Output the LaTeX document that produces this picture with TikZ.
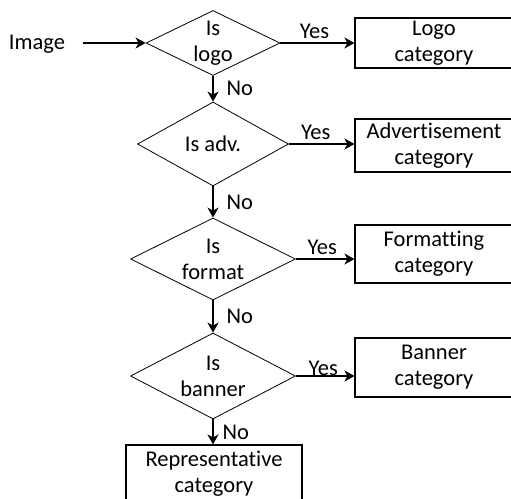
\documentclass[tikz,border=0pt]{standalone}
\usepackage{fontspec}
\setmainfont{Carlito}[Ligatures=NoCommon]
\usepackage{tikz}
\usetikzlibrary{shapes.geometric,arrows.meta,positioning}

\begin{document}
\begin{tikzpicture}[x=1pt,y=-1pt,
    every node/.style={font=\fontsize{22.5}{26}\selectfont},
    decision/.style={draw, diamond, line width=0.8pt, inner sep=0pt},
    catbox/.style={draw, rectangle, line width=1.1pt, align=center, inner sep=0pt, minimum width=158pt},
    flow/.style={-{Stealth[length=10pt,width=11pt,inset=3pt]}, line width=2.6pt}
]
    \useasboundingbox (0,0) rectangle (511,498);
    \clip (0,0) rectangle (511,498);

    % Input
    \node (image) at (37,44) {Image};

    % Decisions
    \node[decision, minimum width=134pt, minimum height=65pt,
        label={[align=center]center:{Is\\logo}}] (islogo) at (213,43) {};
    \node[decision, minimum width=151pt, minimum height=84pt,
        label={[align=center]center:{Is adv.}}] (isadv) at (213,144) {};
    \node[decision, minimum width=165pt, minimum height=82pt,
        label={[align=center]center:{Is\\format}}] (isformat) at (213,259) {};
    \node[decision, minimum width=165pt, minimum height=86pt,
        label={[align=center]center:{Is\\banner}}] (isbanner) at (213,376) {};

    % Categories
    \node[catbox, minimum height=50pt] (logocat) at (434,43) {Logo\\category};
    \node[catbox, minimum height=53pt] (advcat) at (434,145.5) {Advertisement\\category};
    \node[catbox, minimum height=58pt] (fmtcat) at (434,254) {Formatting\\category};
    \node[catbox, minimum height=59pt] (bancat) at (434,367.5) {Banner\\category};
    \node[catbox, minimum width=176pt, minimum height=57pt] (repcat) at (214,473.5) {Representative\\category};

    % Yes branches
    \draw[flow, shorten <=14pt] (image.east |- islogo.west) -- (islogo.west);
    \draw[flow] (islogo.east) -- (islogo.east -| logocat.west) node[midway, above, xshift=-3pt] {Yes};
    \draw[flow] (isadv.east) -- (isadv.east -| advcat.west) node[midway, above, xshift=-6pt] {Yes};
    \draw[flow] (isformat.east) -- (isformat.east -| fmtcat.west) node[midway, above, xshift=-3pt] {Yes};
    \draw[flow] (isbanner.east) -- (isbanner.east -| bancat.west) node[midway, above=-4pt, xshift=-2pt] {Yes};

    % No branches
    \draw[flow] (islogo.south) -- (isadv.north) node[midway, right=9pt] {No};
    \draw[flow] (isadv.south) -- (isformat.north) node[midway, right=9pt] {No};
    \draw[flow] (isformat.south) -- (isbanner.north) node[midway, right=9pt] {No};
    \draw[flow] (isbanner.south) -- (isbanner.south |- repcat.north) node[midway, right=5pt] {No};
\end{tikzpicture}
\end{document}
